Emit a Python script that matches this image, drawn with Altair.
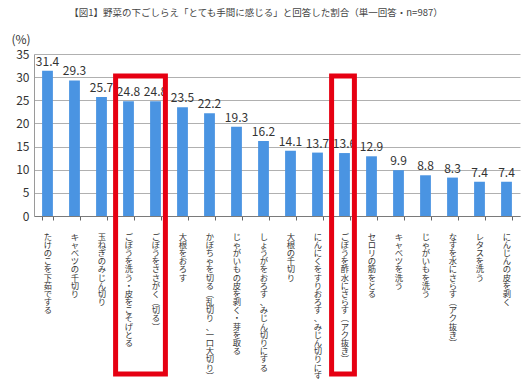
import altair as alt
import pandas as pd

categories = [
    "たけのこを下茹でする",
    "キャベツの千切り",
    "玉ねぎのみじん切り",
    "ごぼうを洗う・皮をこそげとる",
    "ごぼうをささがく（切る）",
    "大根をおろす",
    "かぼちゃを切る（乱切り、一口大切り）",
    "じゃがいもの皮を剥く・芽を取る",
    "しょうがをおろす、みじん切りにする",
    "大根の千切り",
    "にんにくをすりおろす、みじん切りにする",
    "ごぼうを酢水にさらす（アク抜き）",
    "セロリの筋をとる",
    "キャベツを洗う",
    "じゃがいもを洗う",
    "なすを水にさらす（アク抜き）",
    "レタスを洗う",
    "にんじんの皮を剥く",
]
values = [31.4, 29.3, 25.7, 24.8, 24.8, 23.5, 22.2, 19.3, 16.2, 14.1,
          13.7, 13.6, 12.9, 9.9, 8.8, 8.3, 7.4, 7.4]
y_ticks = [0, 5, 10, 15, 20, 25, 30, 35]

box_start = ["ごぼうを洗う・皮をこそげとる", "ごぼうを酢水にさらす（アク抜き）"]
box_end = ["ごぼうをささがく（切る）", "ごぼうを酢水にさらす（アク抜き）"]

df = pd.DataFrame({"item": categories, "pct": values})
boxes = pd.DataFrame({"start": box_start, "end": box_end})

FONT = "Noto Sans CJK JP"

x_scale = alt.Scale(domain=categories, paddingInner=0.6, paddingOuter=0.3)
y_scale = alt.Scale(domain=[0, 35], nice=False)

label_expr = ("isValid(datum.value) ? "
              "split(replace(replace(datum.value, '（', '︵'), '）', '︶'), '') : ''")

base = alt.Chart(df).encode(
    x=alt.X("item:N", sort=categories, scale=x_scale,
            axis=alt.Axis(title=None, labelAngle=0, labelExpr=label_expr,
                          labelFont=FONT, labelFontSize=8.3, labelLineHeight=8.2,
                          labelColor="#333333", labelBaseline="top",
                          labelPadding=12, tickBand="extent", tickSize=4,
                          tickColor="#666666", domainColor="#7a7a7a",
                          labelOverlap=False, grid=False)),
    y=alt.Y("pct:Q", scale=y_scale,
            axis=alt.Axis(values=y_ticks, title="(%)", titleAngle=0,
                          titleX=-23, titleY=-15, titleAlign="left",
                          titleBaseline="middle", titleFont=FONT,
                          titleFontSize=12, titleFontWeight="normal",
                          titleColor="#333333", labelFont=FONT,
                          labelFontSize=12, labelColor="#333333",
                          labelPadding=5, ticks=False, grid=True,
                          gridColor="#b0b0b0", gridWidth=1,
                          domainColor="#9a9a9a")),
)

bars = base.mark_bar(color="#4a94e2")
texts = base.mark_text(baseline="bottom", dy=-2, font=FONT, fontSize=12,
                       color="#333333").encode(text=alt.Text("pct:Q", format=".1f"))

frames = alt.Chart(boxes).mark_rect(
    filled=False, stroke="#e60012", strokeWidth=5, xOffset=-7.5, x2Offset=4.5
).encode(
    x=alt.X("start:N", sort=categories, scale=x_scale, bandPosition=0),
    x2=alt.X2("end:N", bandPosition=1),
    y=alt.value(22),
    y2=alt.value(320),
)

chart = alt.layer(bars, texts, frames).properties(
    width=486, height=162,
    autosize=alt.AutoSizeParams(type="none"),
    padding={"left": 26, "top": 46, "right": 3, "bottom": 163},
    title=alt.TitleParams(
        "【図1】野菜の下ごしらえ「とても手間に感じる」と回答した割合（単一回答・n=987）",
        font=FONT, fontSize=9.5, fontWeight="normal", color="#444444",
        anchor="middle", frame="group", dx=-21, offset=16),
).configure_view(stroke=None)

chart.save("out.html", embed_options={"renderer": "svg", "actions": False})
